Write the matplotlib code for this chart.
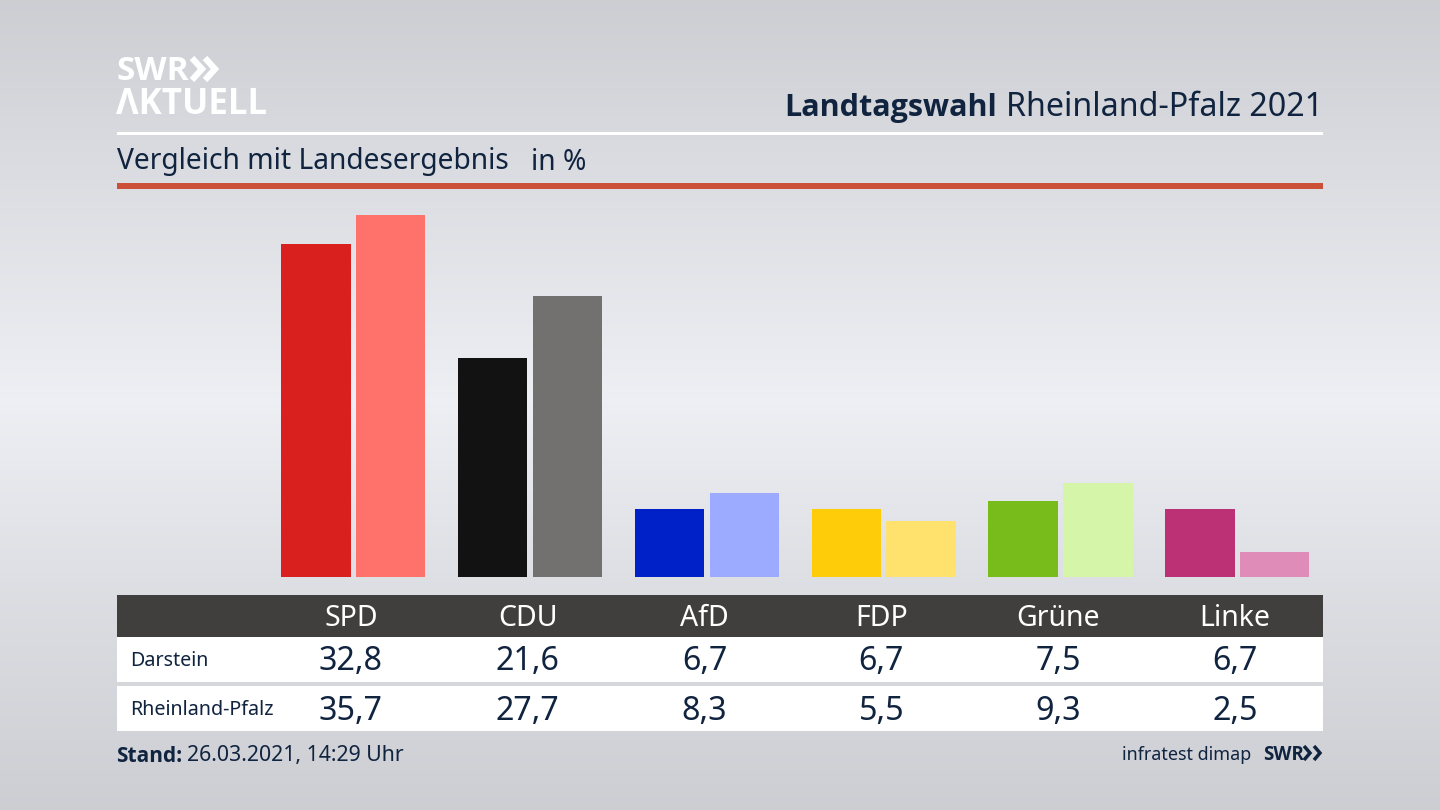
# -*- coding: utf-8 -*-
import numpy as np
import matplotlib
matplotlib.use("Agg")
import matplotlib.pyplot as plt
from matplotlib.patches import Rectangle

parties = ["SPD", "CDU", "AfD", "FDP", "Grüne", "Linke"]
darstein = [32.8, 21.6, 6.7, 6.7, 7.5, 6.7]
rlp = [35.7, 27.7, 8.3, 5.5, 9.3, 2.5]
colors_dark = ["#d9201e", "#121212", "#0020c8", "#ffcc0a", "#78bc1b", "#bc3076"]
colors_light = ["#ff716b", "#72716f", "#9cabff", "#ffe26e", "#d5f6a8", "#e08cb8"]

NAVY = "#10233f"
BOLD = ["Open Sans", "Lato", "DejaVu Sans"]
plt.rcParams["font.family"] = ["Noto Sans", "DejaVu Sans"]


def fmt(v):
    return ("%.1f" % v).replace(".", ",")


fig = plt.figure(figsize=(14.4, 8.1), dpi=100)

# whole figure in pixel coords for the frame, logo and table
bg = fig.add_axes([0, 0, 1, 1])
bg.set_xlim(0, 1440)
bg.set_ylim(810, 0)
bg.axis("off")
stops_y = [0, 150, 400, 600, 810]
stops_v = [0.80, 0.85, 0.93, 0.86, 0.80]
grad = np.interp(np.arange(810), stops_y, stops_v)
img = np.stack([grad, grad + 0.008, grad + 0.026], axis=1)[:, None, :]
bg.imshow(np.clip(img, 0, 1), extent=[0, 1440, 810, 0], aspect="auto", zorder=0)

# logo
bg.text(117, 71, "SWR", color="white", fontsize=24, fontweight="bold", family=BOLD, va="center", ha="left")
bg.text(116, 105, "ΛKTUELL", color="white", fontsize=25, fontweight="bold", family=BOLD, va="center", ha="left")
for x0 in (192, 205):
    bg.plot([x0, x0 + 10, x0], [58, 69, 80], color="white", lw=4.5,
            solid_joinstyle="miter", solid_capstyle="butt", zorder=3)

# head
bg.text(1323, 108, "Rheinland-Pfalz 2021", color=NAVY, fontsize=23.2, va="center", ha="right")
bg.text(997, 108, "Landtagswahl", color=NAVY, fontsize=22, fontweight="bold", family=BOLD, va="center", ha="right")
bg.add_patch(Rectangle((117, 132), 1206, 3, color="white", lw=0, zorder=2))
bg.text(117, 162, "Vergleich mit Landesergebnis", color=NAVY, fontsize=20.3, va="center", ha="left")
bg.text(531, 162, "in %", color=NAVY, fontsize=20.3, va="center", ha="left")
bg.add_patch(Rectangle((117, 183), 1206, 6, color="#cc5038", lw=0, zorder=2))

# bars
left, right, base, top = 117, 1323, 577, 189
step = 176.8
ax = fig.add_axes([left / 1440, 1 - base / 810, (right - left) / 1440, (base - top) / 810])
ax.patch.set_alpha(0)
ax.axis("off")
ax.set_xlim((left - 353.3) / step, (right - 353.3) / step)
ax.set_ylim(0, (base - top) / 10.14)
pos = np.arange(len(parties))
ax.bar(pos - 0.2115, darstein, width=0.393, color=colors_dark)
ax.bar(pos + 0.2115, rlp, width=0.393, color=colors_light)

# table
bg.add_patch(Rectangle((117, 595), 1206, 42, color="#403f3d", lw=0, zorder=2))
bg.add_patch(Rectangle((117, 637), 1206, 45, color="white", lw=0, zorder=2))
bg.add_patch(Rectangle((117, 686), 1206, 45, color="white", lw=0, zorder=2))
bg.text(130, 661, "Darstein", color=NAVY, fontsize=14.2, va="center", ha="left", zorder=3)
bg.text(130, 710, "Rheinland-Pfalz", color=NAVY, fontsize=14.2, va="center", ha="left", zorder=3)
for i, p in enumerate(parties):
    cx = 351 + step * i
    bg.text(cx, 618, p, color="white", fontsize=20.5, va="center", ha="center", zorder=3)
    bg.text(cx, 662, fmt(darstein[i]), color=NAVY, fontsize=23.2, va="center", ha="center", zorder=3)
    bg.text(cx, 711, fmt(rlp[i]), color=NAVY, fontsize=23.2, va="center", ha="center", zorder=3)

# foot
bg.text(116, 756, "Stand:", color=NAVY, fontsize=15, fontweight="bold", family=BOLD, va="center", ha="left")
bg.text(187, 756, "26.03.2021, 14:29 Uhr", color=NAVY, fontsize=15.3, va="center", ha="left")
bg.text(1251, 755, "infratest dimap", color=NAVY, fontsize=12.9, va="center", ha="right")
bg.text(1263, 755, "SWR", color=NAVY, fontsize=13.5, fontweight="bold", family=BOLD, va="center", ha="left")
for x0 in (1304, 1314):
    bg.plot([x0, x0 + 6, x0], [746, 753, 760], color=NAVY, lw=2.5,
            solid_joinstyle="miter", solid_capstyle="butt", zorder=3)

fig.savefig("out.png", dpi=100)
plt.close()
